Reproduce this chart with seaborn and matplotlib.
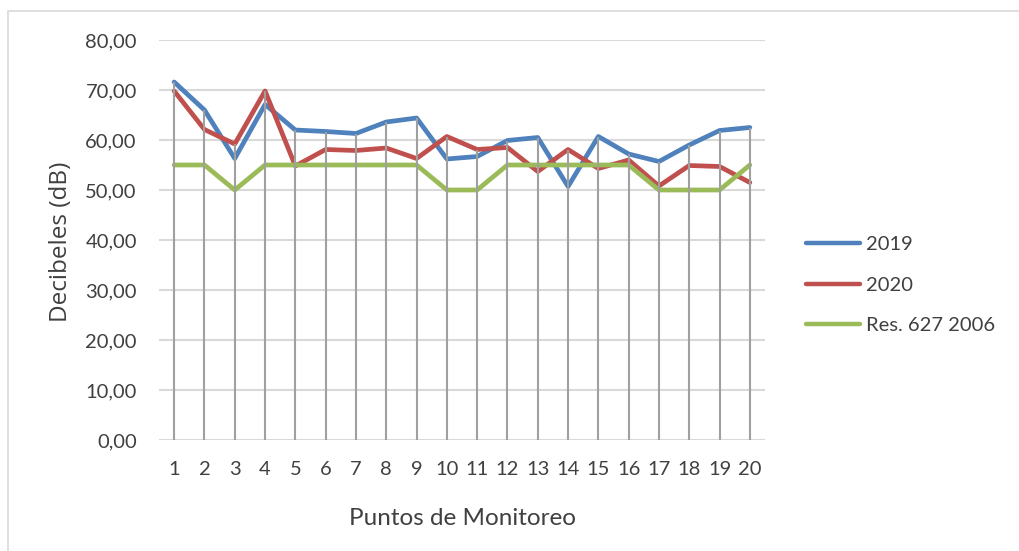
import numpy as np
import pandas as pd
import seaborn as sns
from matplotlib import pyplot as plt
from matplotlib.patches import Rectangle
from matplotlib.ticker import FuncFormatter

# values
puntos = list(range(1, 21))
y2019 = [71.6, 66.0, 56.3, 67.1, 62.0, 61.7, 61.3, 63.6, 64.4, 56.2,
         56.7, 59.9, 60.5, 50.7, 60.7, 57.2, 55.7, 59.0, 61.9, 62.5]
y2020 = [69.8, 62.1, 59.2, 69.8, 54.8, 58.1, 57.9, 58.4, 56.3, 60.7,
         58.1, 58.5, 53.7, 58.1, 54.3, 56.0, 50.8, 54.9, 54.7, 51.5]
res627 = [55, 55, 50, 55, 55, 55, 55, 55, 55, 50,
          50, 55, 55, 55, 55, 55, 50, 50, 50, 55]
series_names = ["2019", "2020", "Res. 627 2006"]
colors = ["#4F81BD", "#C0504D", "#9BBB59"]

df = pd.DataFrame({"punto": puntos, "2019": y2019, "2020": y2020, "Res. 627 2006": res627})
long_df = df.melt(id_vars="punto", var_name="serie", value_name="db")

sns.set_style("white")
plt.rcParams["font.family"] = ["Lato", "DejaVu Sans"]

fig = plt.figure(figsize=(10.19, 5.51), dpi=100)
ax = fig.add_axes([159 / 1019, 1 - 440 / 551, (765 - 159) / 1019, 400 / 551])

# outer chart border
fig.patches.append(Rectangle((8 / 1019, -0.05), 1.1, 1 - 11 / 551 + 0.05,
                             transform=fig.transFigure, fill=False,
                             edgecolor="#D9D9D9", linewidth=1.2))

sns.lineplot(data=long_df, x="punto", y="db", hue="serie", hue_order=series_names,
             palette=colors, linewidth=3.4, ax=ax, zorder=3)

# drop lines from the highest point down to zero
tops = df[series_names].max(axis=1)
ax.vlines(df["punto"], 0, tops, color="#A0A0A0", linewidth=1.5, zorder=4)

ax.set_xlim(0.5, 20.5)
ax.set_ylim(0, 80)
ax.set_xticks(puntos)
ax.set_yticks(np.arange(0, 81, 10))
ax.yaxis.set_major_formatter(FuncFormatter(lambda v, p: f"{v:.2f}".replace(".", ",")))
ax.tick_params(axis="both", length=0, labelsize=14.5, colors="#404040")
ax.tick_params(axis="x", pad=15)
ax.tick_params(axis="y", pad=16)
ax.grid(axis="y", color="#D9D9D9", linewidth=1.5, zorder=0)
ax.set_axisbelow(True)
for s in ax.spines.values():
    s.set_visible(False)

ax.set_xlabel("Puntos de Monitoreo", fontsize=17.5, color="#404040", labelpad=22)
ax.set_ylabel("Decibeles (dB)", fontsize=17.5, color="#404040",
              family=["Open Sans", "DejaVu Sans"])
ax.yaxis.set_label_coords((73 - 159) / 606, 0.495)

ax.legend(loc="center left", bbox_to_anchor=(806 / 1019, 1 - 285 / 551),
          bbox_transform=fig.transFigure, frameon=False, fontsize=14.5,
          handlelength=2.7, handletextpad=0.3, labelspacing=1.15,
          borderpad=0, borderaxespad=0, labelcolor="#404040", title=None)
for line in ax.get_legend().get_lines():
    line.set_linewidth(3.2)

fig.savefig("out.png", dpi=100)
plt.close()
